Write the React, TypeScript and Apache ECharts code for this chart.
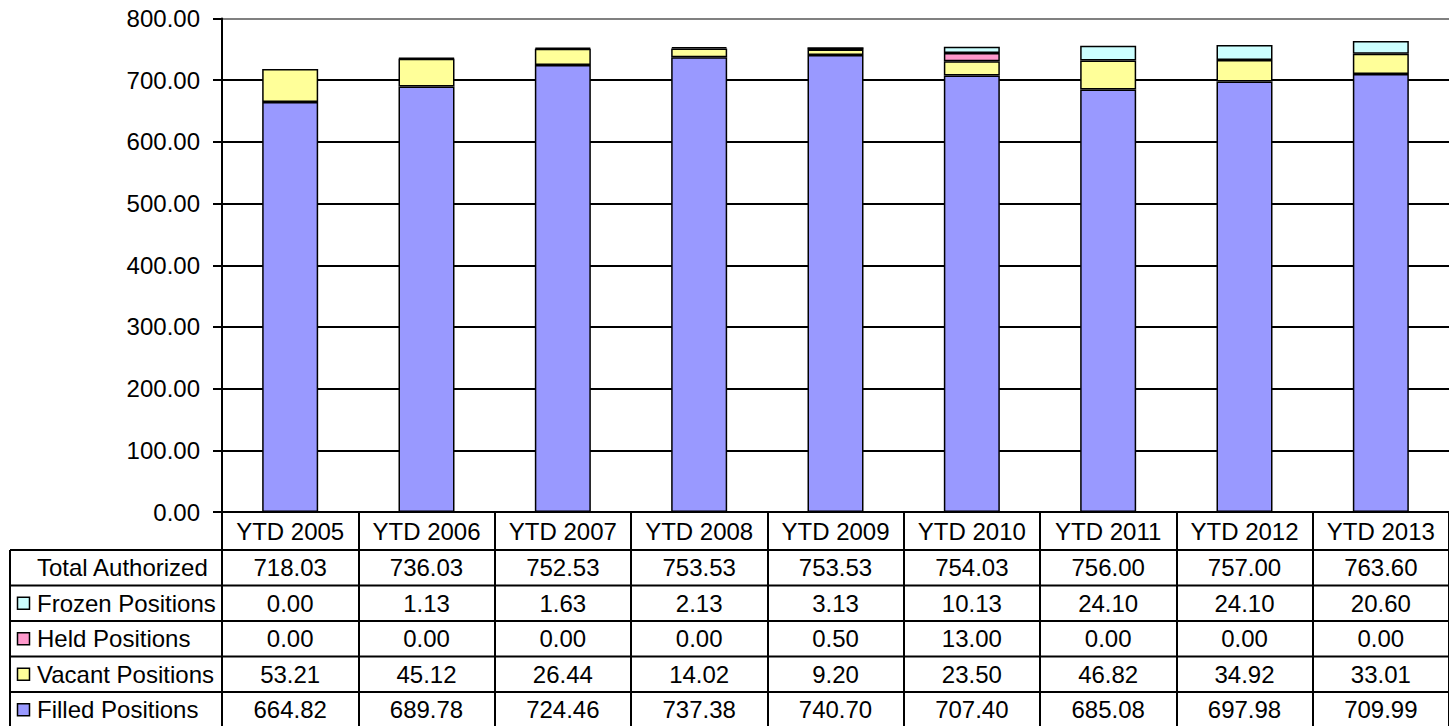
import React, { useEffect, useRef } from "react";
import * as echarts from "echarts";

const categories = ["YTD 2005", "YTD 2006", "YTD 2007", "YTD 2008", "YTD 2009", "YTD 2010", "YTD 2011", "YTD 2012", "YTD 2013"];
const totalAuthorized = [718.03, 736.03, 752.53, 753.53, 753.53, 754.03, 756.0, 757.0, 763.6];
const frozenPositions = [0.0, 1.13, 1.63, 2.13, 3.13, 10.13, 24.1, 24.1, 20.6];
const heldPositions = [0.0, 0.0, 0.0, 0.0, 0.5, 13.0, 0.0, 0.0, 0.0];
const vacantPositions = [53.21, 45.12, 26.44, 14.02, 9.2, 23.5, 46.82, 34.92, 33.01];
const filledPositions = [664.82, 689.78, 724.46, 737.38, 740.7, 707.4, 685.08, 697.98, 709.99];
const yMin = 0;
const yMax = 800;
const yInterval = 100;

const FONT = "'Liberation Sans', Arial, sans-serif";
const FS = 24;

const rows = [
  { label: "Total Authorized", values: totalAuthorized, color: "" },
  { label: "Frozen Positions", values: frozenPositions, color: "#CCFFFF" },
  { label: "Held Positions", values: heldPositions, color: "#FF99CC" },
  { label: "Vacant Positions", values: vacantPositions, color: "#FFFF99" },
  { label: "Filled Positions", values: filledPositions, color: "#9999FF" },
];

export default function App() {
  const ref = useRef<HTMLDivElement>(null);
  useEffect(() => {
    document.body.style.margin = "0";
    const chart = echarts.init(ref.current!, undefined, { renderer: "svg" });

    const gridLeft = 222;
    const gridTop = 18.5;
    const gridHeight = 493.5;
    const gridWidth = 1237.5;
    const axisY = gridTop + gridHeight; // 512
    const headerH = 38;
    const rowH = 35.5;
    const tableLeft = 10;

    const rowCenters = rows.map((_, i) => axisY + headerH + rowH * i + rowH / 2);

    const xAxes: any[] = [
      {
        type: "category",
        data: categories,
        position: "bottom",
        gridIndex: 0,
        axisLine: { show: true, lineStyle: { color: "#000", width: 2 } },
        axisTick: { show: true, length: headerH + rowH * rows.length + 4, lineStyle: { color: "#000", width: 2 } },
        axisLabel: {
          interval: 0,
          color: "#000",
          fontSize: FS,
          fontFamily: FONT,
          margin: headerH / 2,
          verticalAlign: "middle",
          lineHeight: FS,
        },
      },
    ];
    rows.forEach((r, i) => {
      xAxes.push({
        type: "category",
        data: categories,
        position: "bottom",
        gridIndex: 0,
        axisLine: { show: false },
        axisTick: { show: false },
        splitLine: { show: false },
        axisLabel: {
          interval: 0,
          color: "#000",
          fontSize: FS,
          fontFamily: FONT,
          margin: rowCenters[i] - axisY,
          verticalAlign: "middle",
          lineHeight: FS,
          formatter: (_v: string, idx: number) => r.values[idx].toFixed(2),
        },
      });
    });

    const graphics: any[] = [];
    for (let i = 0; i <= rows.length; i++) {
      const y = axisY + headerH + rowH * i;
      graphics.push({
        type: "line",
        shape: { x1: tableLeft, y1: y, x2: 1460, y2: y },
        style: { stroke: "#000", lineWidth: 2 },
        silent: true,
      });
    }
    graphics.push({
      type: "line",
      shape: { x1: tableLeft, y1: axisY + headerH, x2: tableLeft, y2: 740 },
      style: { stroke: "#000", lineWidth: 2 },
      silent: true,
    });
    rows.forEach((r, i) => {
      const cy = rowCenters[i];
      if (r.color) {
        graphics.push({
          type: "rect",
          shape: { x: 17.5, y: cy - 6, width: 12, height: 12 },
          style: { fill: r.color, stroke: "#000", lineWidth: 1.5 },
          silent: true,
        });
      }
      graphics.push({
        type: "text",
        x: 37,
        y: cy,
        style: {
          text: r.label,
          fill: "#000",
          font: `${FS}px ${FONT}`,
          textAlign: "left",
          textVerticalAlign: "middle",
          verticalAlign: "middle",
        },
        silent: true,
      });
    });

    const splitColors: string[] = [];
    const nLines = Math.round((yMax - yMin) / yInterval) + 1;
    for (let i = 0; i < nLines; i++) splitColors.push(i === nLines - 1 ? "#808080" : "#000");

    const barSeries = (name: string, data: number[], color: string) => ({
      name,
      type: "bar",
      stack: "total",
      data: data.map((v) => (v === 0 ? { value: v, itemStyle: { borderWidth: 0 } } : v)),
      barWidth: 56,
      xAxisIndex: 0,
      yAxisIndex: 0,
      itemStyle: { color, borderColor: "#000", borderWidth: 1.5 },
      emphasis: { disabled: true },
    });

    chart.setOption({
      animation: false,
      grid: { left: gridLeft, top: gridTop, width: gridWidth, height: gridHeight, containLabel: false },
      xAxis: xAxes,
      yAxis: {
        type: "value",
        min: yMin,
        max: yMax,
        interval: yInterval,
        axisLine: { show: true, lineStyle: { color: "#000", width: 2 } },
        axisTick: { show: true, length: 9, lineStyle: { color: "#000", width: 2 } },
        axisLabel: {
          color: "#000",
          fontSize: FS,
          fontFamily: FONT,
          margin: 22,
          formatter: (v: number) => v.toFixed(2),
        },
        splitLine: { show: true, lineStyle: { color: splitColors, width: 2 } },
      },
      series: [
        barSeries("Filled Positions", filledPositions, "#9999FF"),
        barSeries("Vacant Positions", vacantPositions, "#FFFF99"),
        barSeries("Held Positions", heldPositions, "#FF99CC"),
        barSeries("Frozen Positions", frozenPositions, "#CCFFFF"),
      ],
      graphic: graphics,
    });
    return () => chart.dispose();
  }, []);
  return <div ref={ref} style={{ width: 1449, height: 726 }} />;
}
